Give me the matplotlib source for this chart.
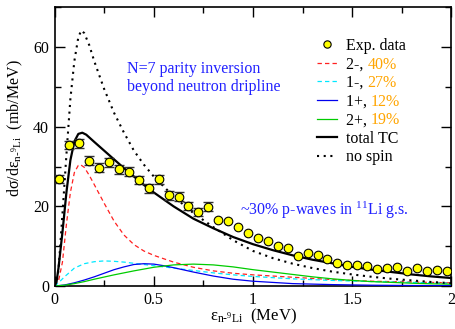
import numpy as np
import matplotlib
matplotlib.use("Agg")
import matplotlib.pyplot as plt

plt.rcParams['font.family'] = ['Liberation Serif', 'DejaVu Serif']
plt.rcParams['mathtext.fontset'] = 'custom'
plt.rcParams['mathtext.rm'] = 'Liberation Serif'
plt.rcParams['mathtext.it'] = 'Liberation Serif:italic'
plt.rcParams['mathtext.bf'] = 'Liberation Serif:bold'

# ---- experimental data ----
exp_x = [0.025, 0.075, 0.125, 0.175, 0.225, 0.275, 0.325, 0.375, 0.425, 0.475,
         0.525, 0.575, 0.625, 0.675, 0.725, 0.775, 0.825, 0.875, 0.925, 0.975,
         1.025, 1.075, 1.125, 1.175, 1.225, 1.275, 1.325, 1.375, 1.425, 1.475,
         1.525, 1.575, 1.625, 1.675, 1.725, 1.775, 1.825, 1.875, 1.925, 1.975]
exp_y = [26.9, 35.4, 35.8, 31.5, 29.7, 31.1, 29.3, 28.7, 26.6, 24.5,
         26.8, 22.8, 22.4, 20.1, 18.6, 19.9, 16.7, 16.4, 14.9, 13.2,
         12.1, 11.3, 10.1, 9.5, 7.5, 8.4, 7.8, 6.9, 5.9, 5.4,
         5.4, 5.0, 4.3, 4.4, 4.7, 3.8, 4.6, 3.8, 3.9, 3.8]
exp_err = [1.1] * 16 + [0.0] * 24

# ---- theory curves ----
tc_x = [0, 0.01, 0.02, 0.04, 0.06, 0.08, 0.10, 0.12, 0.14, 0.16, 0.2, 0.25, 0.3, 0.35,
        0.4, 0.45, 0.5, 0.6, 0.7, 0.8, 0.9, 1.0, 1.1, 1.2, 1.3, 1.4, 1.5, 1.6,
        1.7, 1.8, 1.9, 2.0]
tc_y = [0, 1.0, 4.5, 13.5, 23.5, 31.6, 36.3, 38.2, 38.5, 38.0, 36.2, 34.0, 31.8, 29.6,
        27.5, 25.4, 23.5, 20.0, 16.9, 14.5, 12.3, 10.5, 9.0, 7.7, 6.6, 5.7, 4.8, 4.1,
        3.5, 2.9, 2.4, 2.0]

ns_x = [0, 0.01, 0.02, 0.04, 0.06, 0.08, 0.10, 0.12, 0.135, 0.15, 0.175, 0.2, 0.25,
        0.3, 0.35, 0.4, 0.45, 0.5, 0.55, 0.6, 0.7, 0.8, 0.9, 1.0, 1.1, 1.2, 1.3,
        1.4, 1.5, 1.6, 1.7, 1.8, 1.9, 2.0]
ns_y = [0, 1.0, 4.0, 18.0, 33.0, 47.0, 56.5, 62.5, 64.2, 63.5, 60.5, 56.5, 49.5,
        43.5, 38.5, 34.0, 30.5, 27.5, 25.0, 22.5, 18.3, 14.8, 11.5, 8.8, 7.0, 5.6, 4.5,
        3.6, 2.9, 2.3, 1.8, 1.4, 1.0, 0.7]

m2_x = [0, 0.02, 0.04, 0.06, 0.08, 0.10, 0.12, 0.13, 0.15, 0.175, 0.2, 0.25, 0.3,
        0.35, 0.4, 0.45, 0.5, 0.6, 0.7, 0.8, 0.9, 1.0, 1.2, 1.4, 1.6, 1.8, 2.0]
m2_y = [0, 1.2, 6.0, 15.5, 23.5, 28.5, 30.3, 30.5, 29.8, 27.8, 25.5, 20.8, 16.3,
        12.8, 10.4, 8.8, 7.7, 6.0, 4.7, 3.8, 3.2, 2.8, 2.2, 1.6, 1.2, 1.0, 0.8]

m1_x = [0, 0.02, 0.05, 0.08, 0.1, 0.15, 0.2, 0.25, 0.3, 0.35, 0.4, 0.5, 0.6, 0.7,
        0.8, 0.9, 1.0, 1.2, 1.4, 1.6, 1.8, 2.0]
m1_y = [0, 0.8, 2.3, 3.6, 4.5, 5.6, 6.1, 6.3, 6.2, 6.0, 5.7, 5.1, 4.5, 3.9,
        3.3, 2.8, 2.4, 1.8, 1.4, 1.1, 0.9, 0.7]

p1_x = [0, 0.05, 0.1, 0.15, 0.2, 0.25, 0.3, 0.35, 0.4, 0.45, 0.5, 0.55, 0.6, 0.7,
        0.8, 0.9, 1.0, 1.2, 1.4, 1.6, 1.8, 2.0]
p1_y = [0, 0.25, 0.8, 1.5, 2.3, 3.2, 4.1, 4.8, 5.4, 5.6, 5.5, 5.1, 4.6, 3.5,
        2.5, 1.7, 1.2, 0.6, 0.35, 0.2, 0.12, 0.08]

p2_x = [0, 0.05, 0.1, 0.15, 0.2, 0.3, 0.4, 0.5, 0.6, 0.7, 0.8, 0.9, 1.0, 1.1,
        1.2, 1.3, 1.4, 1.5, 1.6, 1.7, 1.8, 1.9, 2.0]
p2_y = [0, 0.2, 0.6, 1.1, 1.7, 2.8, 3.8, 4.7, 5.3, 5.5, 5.3, 4.8, 4.1, 3.5,
        2.9, 2.3, 1.8, 1.4, 1.1, 0.9, 0.7, 0.55, 0.45]

legend_names = ["Exp. data", "2-, ", "1-, ", "1+, ", "2+, ", "total TC", "no spin"]
legend_pcts = ["", "40%", "27%", "12%", "19%", "", ""]

fig = plt.figure(figsize=(4.55, 3.29), dpi=100)
ax = fig.add_axes([0.1198, 0.1307, 0.8725, 0.8471])

red = '#ff2020'
cyan = '#00e8ff'
blue = '#0000ee'
green = '#00cc00'
orange = '#ffa500'

l_m2, = ax.plot(m2_x, m2_y, color=red, lw=0.9, ls=(0, (3.5, 2.5)), zorder=3)
l_m1, = ax.plot(m1_x, m1_y, color=cyan, lw=0.9, ls=(0, (3.5, 2.5)), zorder=3)
l_p1, = ax.plot(p1_x, p1_y, color=blue, lw=0.9, zorder=3)
l_p2, = ax.plot(p2_x, p2_y, color=green, lw=0.9, zorder=3)
l_tc, = ax.plot(tc_x, tc_y, color='black', lw=1.6, zorder=4)
l_ns, = ax.plot(ns_x, ns_y, color='black', lw=1.5, ls=(0, (1, 2.2)), zorder=4)

ex = np.array(exp_x)
ey = np.array(exp_y)
ee = np.array(exp_err)
msk = ee > 0
ax.errorbar(ex[msk], ey[msk], yerr=ee[msk], fmt='none', ecolor='#333333',
            elinewidth=1.0, capsize=3.6, capthick=1.0, zorder=5)
l_exp, = ax.plot(ex, ey, ls='none', marker='o', ms=6.2, mfc='#ffff00',
                 mec='black', mew=0.8, zorder=6)

ax.set_xlim(0, 2)
ax.set_ylim(0, 70)
ax.set_xticks([0, 0.5, 1, 1.5, 2])
ax.set_xticklabels(['0', '0.5', '1', '1.5', '2'])
ax.set_xticks(np.arange(0, 2.01, 0.25), minor=True)
ax.set_yticks([0, 20, 40, 60])
ax.set_yticks(np.arange(0, 70.1, 10), minor=True)
ax.tick_params(which='both', direction='in', top=True, right=True,
               labelsize=11.5, width=1.0, pad=4)
ax.tick_params(which='major', length=7)
ax.tick_params(which='minor', length=4)
for s in ax.spines.values():
    s.set_linewidth(1.2)

ax.set_xlabel(r'ε$_{\mathrm{n}\text{-}{}^{9}\mathrm{Li}}$  (MeV)', fontsize=12)
ax.set_ylabel(r'dσ/dε$_{\mathrm{n}\text{-}{}^{9}\mathrm{Li}}$  (mb/MeV)', fontsize=11.5)
ax.xaxis.set_label_coords(0.5, -0.075)
ax.yaxis.set_label_coords(-0.075, 0.565)

ax.text(0.363, 52.3, 'N=7 parity inversion\nbeyond neutron dripline', color='#2020ff',
        fontsize=11.5, va='center', ha='left', linespacing=1.15)
ax.text(0.934, 19.1, r'~30% p-waves in $^{11}$Li g.s.', color='#2020ff',
        fontsize=11.5, va='center', ha='left')

handles = [l_exp, l_m2, l_m1, l_p1, l_p2, l_tc, l_ns]
leg = ax.legend(handles, legend_names, loc='upper left', bbox_to_anchor=(0.66, 0.89),
                frameon=False, fontsize=11.5, handlelength=1.3, handletextpad=0.55,
                labelspacing=0.16, borderaxespad=0, borderpad=0, markerscale=0.85)
leg.set_zorder(5)
for txt, pct in zip(leg.get_texts(), legend_pcts):
    if pct:
        ax.annotate(pct, xy=(1, 0), xycoords=txt, va='bottom', ha='left',
                    color=orange, fontsize=11.5, zorder=20)

fig.savefig('out.png', dpi=100)
